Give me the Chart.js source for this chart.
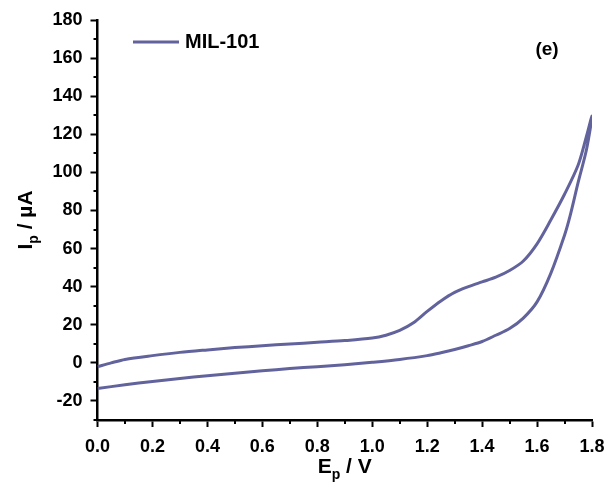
<!DOCTYPE html>
<html>
<head>
<meta charset="utf-8">
<script src="https://cdn.jsdelivr.net/npm/chart.js@4.4.1/dist/chart.umd.min.js"></script>
<style>
  html, body { margin: 0; padding: 0; background: #ffffff; }
  #wrap { width: 608px; height: 491px; }
</style>
</head>
<body>
<div id="wrap"><canvas id="cvChart"></canvas></div>
<script>
// forward (anodic) scan, 0 -> 1.8 V
const forwardE = [0.0, 0.05, 0.1, 0.2, 0.3, 0.4, 0.5, 0.6, 0.7, 0.8, 0.9, 1.0, 1.05, 1.1, 1.15, 1.2, 1.25, 1.3, 1.35, 1.4, 1.45, 1.5, 1.55, 1.6, 1.65, 1.7, 1.75, 1.78, 1.8];
const forwardI = [-2, 0, 1.8, 3.8, 5.5, 6.8, 8, 9, 9.9, 10.8, 11.7, 13, 14.5, 17, 21, 27, 32.5, 37, 40, 42.5, 45, 48.5, 53.5, 62.5, 75, 88.5, 104, 119, 129.5];
// reverse scan, 1.8 -> 0 V
const reverseE = [1.78, 1.75, 1.72, 1.7, 1.65, 1.6, 1.55, 1.5, 1.45, 1.4, 1.35, 1.3, 1.25, 1.2, 1.1, 1.0, 0.9, 0.8, 0.7, 0.6, 0.5, 0.4, 0.3, 0.2, 0.1, 0.0];
const reverseI = [112, 95, 77, 67, 47, 32, 23.5, 18, 14.5, 11.2, 9, 7, 5.3, 3.8, 1.8, 0.3, -1, -2, -3, -4.2, -5.5, -6.8, -8.2, -9.8, -11.5, -13.5];

const seriesLabel = 'MIL-101';
const panelLabel = '(e)';
const xTickLabels = ['0.0', '0.2', '0.4', '0.6', '0.8', '1.0', '1.2', '1.4', '1.6', '1.8'];
const yTickLabels = ['-20', '0', '20', '40', '60', '80', '100', '120', '140', '160', '180'];

const lineColor = '#62639c';
const fontFamily = "'Liberation Sans', Arial, sans-serif";

const points = [];
forwardE.forEach((e, i) => points.push({ x: e, y: forwardI[i] }));
reverseE.forEach((e, i) => points.push({ x: e, y: reverseI[i] }));

function isMajor(v, step) {
  const r = v / step;
  return Math.abs(r - Math.round(r)) < 1e-6;
}

// draws text pieces, with a lowered small "p" for the subscripts
function drawSubText(ctx, parts, size) {
  let total = 0;
  parts.forEach(p => {
    ctx.font = `bold ${p.sub ? Math.round(size * 0.68) : size}px ${fontFamily}`;
    p.w = ctx.measureText(p.t).width;
    total += p.w;
  });
  let x = -total / 2;
  parts.forEach(p => {
    ctx.font = `bold ${p.sub ? Math.round(size * 0.68) : size}px ${fontFamily}`;
    ctx.fillText(p.t, x, p.sub ? size * 0.3 : 0);
    x += p.w;
  });
}

const extrasPlugin = {
  id: 'extras',
  afterDraw(chart) {
    const ctx = chart.ctx;
    const xs = chart.scales.x;
    const ys = chart.scales.y;
    const area = chart.chartArea;
    ctx.save();
    ctx.strokeStyle = '#000';
    ctx.lineWidth = 2;
    // minor ticks
    for (let v = 0.1; v < 1.8; v += 0.2) {
      const px = Math.round(xs.getPixelForValue(v));
      ctx.beginPath();
      ctx.moveTo(px, area.bottom);
      ctx.lineTo(px, area.bottom + 4);
      ctx.stroke();
    }
    for (let v = -30; v < 180; v += 20) {
      const py = Math.round(ys.getPixelForValue(v));
      ctx.beginPath();
      ctx.moveTo(area.left, py);
      ctx.lineTo(area.left - 4, py);
      ctx.stroke();
    }

    // legend
    ctx.strokeStyle = lineColor;
    ctx.lineWidth = 3;
    ctx.beginPath();
    ctx.moveTo(133, 42);
    ctx.lineTo(179, 42);
    ctx.stroke();
    ctx.fillStyle = '#000';
    ctx.font = `bold 20px ${fontFamily}`;
    ctx.textAlign = 'left';
    ctx.textBaseline = 'middle';
    ctx.fillText(seriesLabel, 185, 42);

    ctx.font = `bold 19px ${fontFamily}`;
    ctx.textAlign = 'center';
    ctx.fillText(panelLabel, 547, 50);

    // axis titles
    ctx.textAlign = 'left';
    ctx.textBaseline = 'alphabetic';
    ctx.save();
    ctx.translate((area.left + area.right) / 2, 473);
    drawSubText(ctx, [{ t: 'E' }, { t: 'p', sub: true }, { t: ' / V' }], 21);
    ctx.restore();

    ctx.save();
    ctx.translate(32, (area.top + area.bottom) / 2);
    ctx.rotate(-Math.PI / 2);
    drawSubText(ctx, [{ t: 'I' }, { t: 'p', sub: true }, { t: ' / \u00b5A' }], 21);
    ctx.restore();
    ctx.restore();
  }
};

new Chart(document.getElementById('cvChart'), {
  type: 'scatter',
  data: {
    datasets: [{
      label: seriesLabel,
      data: points,
      showLine: true,
      borderColor: lineColor,
      backgroundColor: lineColor,
      borderWidth: 3,
      pointRadius: 0,
      tension: 0.3
    }]
  },
  options: {
    responsive: true,
    maintainAspectRatio: false,
    animation: false,
    layout: { padding: { top: 20, right: 0, bottom: 0, left: 0 } },
    plugins: {
      legend: { display: false },
      tooltip: { enabled: false }
    },
    scales: {
      x: {
        type: 'linear',
        min: 0,
        max: 1.8,
        afterFit: s => {
          s.height = 71;
          s.paddingRight = 16;
        },
        border: { display: true, color: '#000', width: 2.5 },
        grid: {
          drawOnChartArea: false,
          drawTicks: true,
          tickLength: 7,
          tickWidth: 2,
          tickColor: '#000'
        },
        ticks: {
          stepSize: 0.2,
          autoSkip: false,
          maxRotation: 0,
          padding: 9,
          color: '#000',
          font: { family: fontFamily, size: 18, weight: 'bold' },
          callback: v => {
            const s = v.toFixed(1);
            return xTickLabels.includes(s) ? s : '';
          }
        }
      },
      y: {
        type: 'linear',
        min: -30,
        max: 180,
        afterFit: s => { s.width = 97.5; },
        border: { display: true, color: '#000', width: 2.5 },
        grid: {
          drawOnChartArea: false,
          drawTicks: true,
          tickLength: 7,
          tickWidth: 2,
          tickColor: ctx => (ctx.tick && isMajor(ctx.tick.value, 20) ? '#000' : 'rgba(0,0,0,0)')
        },
        ticks: {
          stepSize: 10,
          autoSkip: false,
          padding: 8,
          color: '#000',
          font: { family: fontFamily, size: 18, weight: 'bold' },
          callback: v => {
            const s = String(v);
            return yTickLabels.includes(s) ? s : '';
          }
        }
      }
    }
  },
  plugins: [extrasPlugin]
});
</script>
</body>
</html>
